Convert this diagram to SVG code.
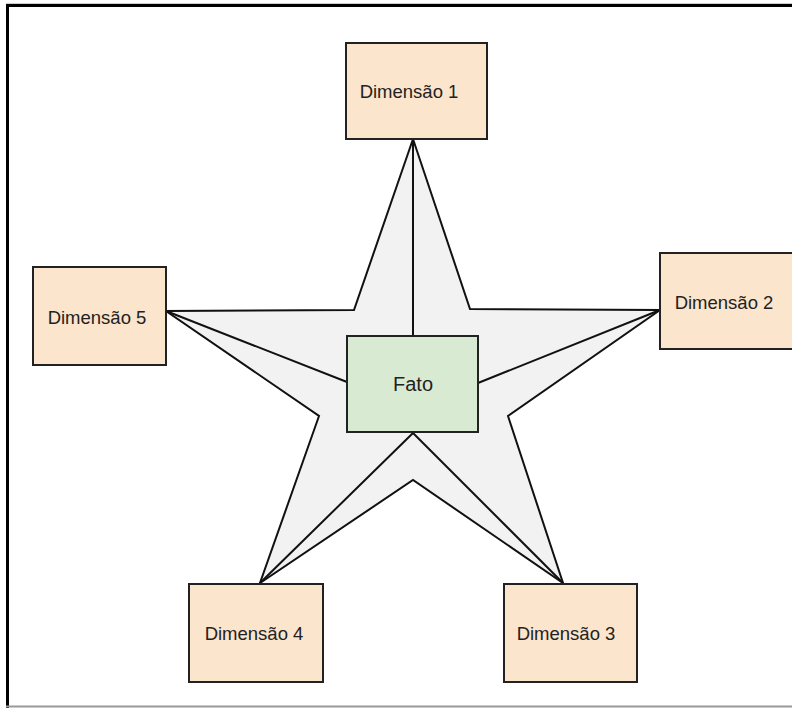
<svg xmlns="http://www.w3.org/2000/svg" width="792" height="708" viewBox="0 0 792 708">
<style>
.dim rect{fill:#fce5cd;stroke:#222;stroke-width:2}
.fact rect{fill:#d9ead3;stroke:#222;stroke-width:2}
text{font-family:"Liberation Sans",Arial,sans-serif;font-size:18.5px;fill:#222;text-anchor:middle;dominant-baseline:central}
.conn line{stroke:#111;stroke-width:2;stroke-linecap:round}
</style>
<rect width="792" height="708" fill="#fff"/>
<g id="frame">
<line x1="6" y1="3.5" x2="792" y2="3.5" stroke="#ccc" stroke-width="1"/>
<line x1="6" y1="5.5" x2="792" y2="5.5" stroke="#000" stroke-width="3"/>
<line x1="7.5" y1="4" x2="7.5" y2="708" stroke="#000" stroke-width="3"/>
<line x1="6" y1="706.5" x2="792" y2="706.5" stroke="#999" stroke-width="2"/>
</g>
<g id="star">
<polygon points="413,139 470,309 660,310 508,416 563,583 413,480 260,583 319,416 166,311 354,310" fill="#f2f2f2" stroke="#111" stroke-width="2" stroke-linejoin="miter"/>
</g>
<g class="conn" id="connectors">
<line x1="413" y1="139" x2="413" y2="336"/>
<line x1="166" y1="311" x2="347" y2="382"/>
<line x1="660" y1="310" x2="478" y2="383"/>
<line x1="260" y1="583" x2="413" y2="433"/>
<line x1="563" y1="583" x2="413" y2="433"/>
</g>
<g id="dim1" class="dim"><rect x="346" y="43" width="141" height="96"/><text x="409" y="91">Dimensão 1</text></g>
<g id="dim2" class="dim"><rect x="660" y="253" width="138" height="96"/><text x="724" y="302">Dimensão 2</text></g>
<g id="dim3" class="dim"><rect x="504" y="584" width="133" height="98"/><text x="566" y="633">Dimensão 3</text></g>
<g id="dim4" class="dim"><rect x="189" y="584" width="134" height="98"/><text x="254" y="633">Dimensão 4</text></g>
<g id="dim5" class="dim"><rect x="33" y="267" width="133" height="98"/><text x="97" y="317">Dimensão 5</text></g>
<g id="fato" class="fact"><rect x="347" y="336" width="131" height="96"/><text x="413" y="384" style="font-size:20px">Fato</text></g>
</svg>
